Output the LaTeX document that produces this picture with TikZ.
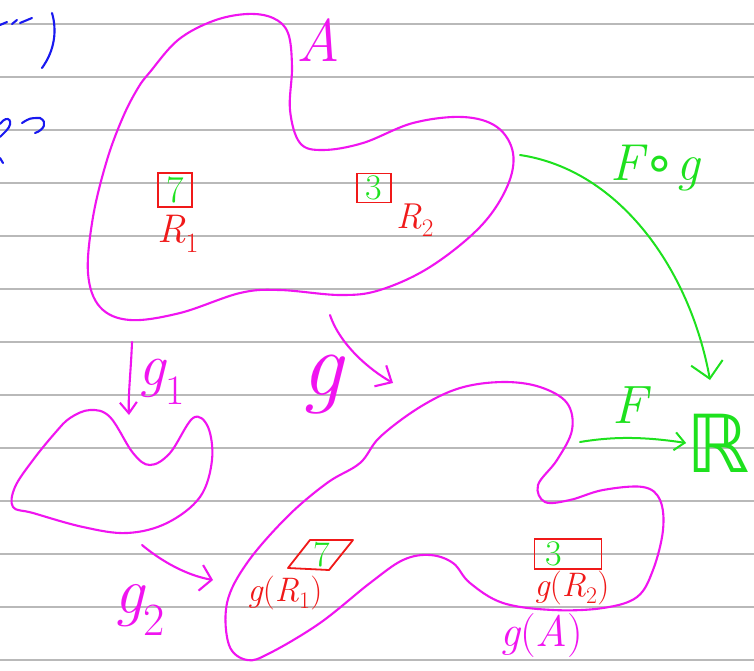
\documentclass[tikz,border=0pt]{standalone}
\usepackage{fontspec}
\usepackage{tikz}
\usepackage{xcolor}
\usetikzlibrary{arrows.meta, positioning}
\newfontfamily\symfont{DejaVu Sans}
\definecolor{pinkpen}{RGB}{240, 20, 240}
\definecolor{redpen}{RGB}{240, 25, 25}
\definecolor{greenpen}{RGB}{30, 225, 30}
\definecolor{bluepen}{RGB}{25, 25, 240}
\definecolor{rulegray}{RGB}{185, 185, 185}

\begin{document}
\begin{tikzpicture}[x=1pt,y=-1pt,
    inkpink/.style={draw=pinkpen,line width=2.1pt,line cap=round,line join=round},
    inkred/.style={draw=redpen,line width=1.8pt,line cap=round,line join=round},
    inkgreen/.style={draw=greenpen,line width=2pt,line cap=round},
    inkblue/.style={draw=bluepen,line width=2.1pt,line cap=round},
    ruling/.style={draw=rulegray,line width=1.3pt},
    lbl/.style={inner sep=0pt,font=\fontsize{#1}{#1}\selectfont\itshape}]
        \fill[white] (0,0) rectangle (754,670);
        \useasboundingbox (0,0) rectangle (754,670);
        % ruled paper
        \foreach \y in {24,77,...,660}
          \draw[ruling] (0,\y) -- (754,\y);
        % blue scraps at the margin
        \draw[inkblue] (52,13) .. controls (57,30) and (55,50) .. (42,68);
        \draw[inkblue] (0,25) -- (7,22) (12,24) -- (17,20) (20,23) -- (32,18);
        \draw[inkblue] (0,124) .. controls (8,113) and (15,122) .. (6,131) -- (0,137);
        \draw[inkblue] (0,158) -- (3,163);
        \draw[inkblue] (22,123) .. controls (30,118) .. (40,118)
          .. controls (48,122) and (44,130) .. (35,133);

        % the set A
        \draw[inkpink] plot[smooth cycle,tension=0.6] coordinates {
          (150,72) (178,40) (213,21) (247,14) (273,18) (288,33) (292,67)
          (290,110) (300,143) (323,150) (363,143) (413,123) (463,117)
          (497,127) (513,153) (507,187) (480,227) (430,267) (380,290)
          (340,295) (280,290) (240,293) (180,313) (130,320) (100,307)
          (88,273) (93,217) (107,160) (123,117) (138,88)};
        \node[lbl=60,text=pinkpen] (setA) at (318,40) {A};
        \node[lbl=38,draw=redpen,line width=1.8pt,text=greenpen,
              minimum width=34pt,minimum height=34pt] (boxRone) at (175,190) {\upshape 7};
        \node[lbl=40,text=redpen] (labRone) at (178,234) {R\textsubscript{\upshape 1}};
        \node[lbl=36,draw=redpen,line width=1.8pt,text=greenpen,
              minimum width=34pt,minimum height=29pt] (boxRtwo) at (374,188) {\upshape 3};
        \node[lbl=36,text=redpen] (labRtwo) at (415,220) {R\textsubscript{\upshape 2}};

        % image under g_1
        \draw[inkpink] plot[smooth cycle,tension=0.6] coordinates {
          (90,410) (110,417) (133,453) (150,465) (170,453) (193,418)
          (208,427) (212,460) (200,497) (167,523) (127,533) (83,527)
          (33,513) (13,507) (15,487) (33,460) (55,433) (70,418)};

        % the image g(A)
        \draw[inkpink] plot[smooth cycle,tension=0.6] coordinates {
          (360,463) (380,437) (420,407) (460,388) (503,382) (540,387)
          (567,403) (572,430) (557,460) (538,485) (545,502) (570,500)
          (603,490) (643,487) (660,500) (663,530) (653,570) (637,597)
          (603,608) (553,610) (503,603) (470,583) (453,563) (430,555)
          (403,560) (370,583) (320,623) (270,653) (247,660) (229,645)
          (227,603) (247,563) (287,517) (327,483)};
        \node[lbl=44,text=pinkpen] (labgA) at (542,636) {g\upshape(\itshape A\upshape)};
        \draw[inkred] (288,568) -- (310,540) -- (353,540) -- (329,570) -- cycle;
        \node[lbl=36,text=greenpen] (sevenB) at (322,555) {\upshape 7};
        \node[lbl=34,text=redpen] (labgRone) at (285,593)
          {g\upshape(\itshape R\textsubscript{\upshape 1}\upshape)};
        \node[lbl=36,draw=redpen,line width=1.8pt,text=greenpen,
              minimum width=67pt,minimum height=30pt] (boxgRtwo) at (568,554)
              {\upshape 3\hspace*{28pt}};
        \node[lbl=34,text=redpen] (labgRtwo) at (572,588)
          {g\upshape(\itshape R\textsubscript{\upshape 2}\upshape)};

        % the reals
        \node[lbl=80,text=greenpen] (reals) at (718,443) {\symfont\upshape ℝ};

        % maps
        \coordinate (gOneTail) at (132,342);
        \coordinate (gOneTip) at (129,415);
        \draw[inkpink,-{Straight Barb[length=11pt,width=17pt]}]
          (gOneTail) .. controls (131,370) and (128,395) .. (gOneTip);
        \node[lbl=60,text=pinkpen] (labgOne) at (162,382) {g\textsubscript{\upshape 1}};

        \coordinate (gTail) at (330,315);
        \coordinate (gTip) at (393,383);
        \draw[inkpink,-{Straight Barb[length=13pt,width=24pt]}]
          (gTail) .. controls (340,345) and (370,370) .. (gTip);
        \node[lbl=92,text=pinkpen] (labg) at (322,385) {g};

        \coordinate (gTwoTail) at (142,545);
        \coordinate (gTwoTip) at (213,580);
        \draw[inkpink,-{Straight Barb[length=11pt,width=26pt]}]
          (gTwoTail) .. controls (160,560) and (185,575) .. (gTwoTip);
        \node[lbl=66,text=pinkpen] (labgTwo) at (140,610) {g\textsubscript{\upshape 2}};

        \coordinate (FgTail) at (520,155);
        \coordinate (FgTip) at (710,380);
        \draw[inkgreen,-{Straight Barb[length=16pt,width=32pt]}]
          (FgTail) .. controls (620,170) and (690,270) .. (FgTip);
        \node[lbl=52,text=greenpen] (labFg) at (655,168) {F{\symfont\upshape ∘}g};

        \coordinate (FTail) at (580,442);
        \draw[inkgreen,-{Straight Barb[length=10pt,width=18pt]}]
          (FTail) .. controls (610,437) and (640,436) .. (reals.west);
        \node[lbl=54,text=greenpen] (labF) at (630,405) {F};
      \end{tikzpicture}
\end{document}
